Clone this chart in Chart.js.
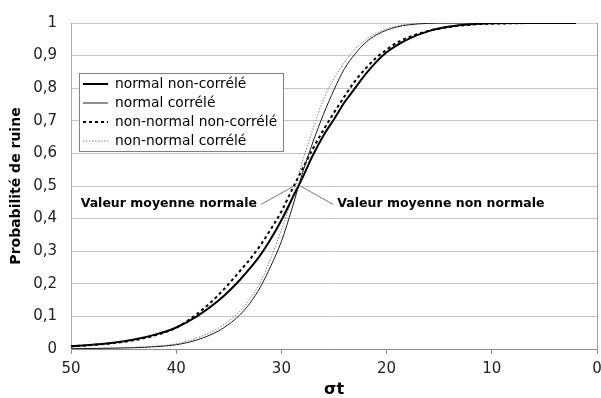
<!DOCTYPE html>
<html lang="fr">
<head>
<meta charset="utf-8">
<title>Probabilité de ruine</title>
<script src="https://cdn.jsdelivr.net/npm/chart.js@4.4.1/dist/chart.umd.min.js"></script>
<style>
  html, body { margin: 0; padding: 0; background: #fff; }
  #ruineChart { display: block; }
</style>
</head>
<body>
<canvas id="ruineChart" width="601" height="398"></canvas>
<script>
// sigma t (abscisse, axe inversé)
const sigmaT = [50, 48, 46, 44, 42, 40, 38, 36, 35, 34, 33, 32, 31, 30, 29, 28, 27, 26, 25, 24, 23, 22, 21, 20, 19, 18, 16, 14, 12, 10, 8, 6, 4, 2];

// probabilité de ruine pour chaque hypothèse
const normalNonCorrele = [0.009, 0.013, 0.019, 0.029, 0.044, 0.066, 0.101, 0.148, 0.177, 0.21, 0.247, 0.288, 0.338, 0.395, 0.46, 0.525, 0.595, 0.655, 0.705, 0.757, 0.80, 0.843, 0.88, 0.91, 0.932, 0.95, 0.975, 0.989, 0.996, 0.999, 1, 1, 1, 1];
const normalCorrele = [0.001, 0.0015, 0.0025, 0.004, 0.007, 0.013, 0.028, 0.055, 0.076, 0.103, 0.14, 0.19, 0.255, 0.33, 0.43, 0.54, 0.635, 0.72, 0.795, 0.86, 0.905, 0.94, 0.963, 0.978, 0.988, 0.994, 0.999, 1, 1, 1, 1, 1, 1, 1];
const nonNormalNonCorrele = [0.008, 0.012, 0.018, 0.027, 0.042, 0.065, 0.108, 0.165, 0.2, 0.237, 0.275, 0.318, 0.368, 0.422, 0.488, 0.552, 0.615, 0.672, 0.725, 0.775, 0.822, 0.86, 0.893, 0.918, 0.94, 0.955, 0.976, 0.988, 0.995, 0.998, 0.999, 1, 1, 1];
const nonNormalCorrele = [0.001, 0.002, 0.003, 0.005, 0.009, 0.016, 0.034, 0.064, 0.086, 0.114, 0.153, 0.205, 0.28, 0.365, 0.46, 0.575, 0.675, 0.765, 0.83, 0.88, 0.92, 0.948, 0.968, 0.982, 0.991, 0.996, 0.9995, 1, 1, 1, 1, 1, 1, 1];

// valeurs moyennes annotées
const moyenneLabels = ['Valeur moyenne normale', 'Valeur moyenne non normale'];
const moyenneX = [28.8, 28.2];
const moyenneY = [0.5, 0.5];

const xTickLabels = ['0', '10', '20', '30', '40', '50'];
const yTickLabels = ['0', '0,1', '0,2', '0,3', '0,4', '0,5', '0,6', '0,7', '0,8', '0,9', '1'];

const toPoints = (ys) => sigmaT.map((x, i) => ({ x: x, y: ys[i] }));

Chart.defaults.font.family = "'DejaVu Sans', sans-serif";
Chart.defaults.color = '#222';

// légende encadrée dans la zone du graphique
const boxLegend = {
  id: 'boxLegend',
  afterDatasetsDraw(chart) {
    const ctx = chart.ctx;
    const left = 79, top = 73, width = 204, height = 78;
    ctx.save();
    ctx.fillStyle = '#fff';
    ctx.fillRect(left, top, width, height);
    ctx.strokeStyle = '#808080';
    ctx.lineWidth = 1;
    ctx.strokeRect(left + 0.5, top + 0.5, width, height);
    ctx.font = "13.8px 'DejaVu Sans'";
    ctx.textBaseline = 'middle';
    chart.data.datasets.forEach((ds, i) => {
      const y = 84 + i * 19;
      ctx.beginPath();
      ctx.strokeStyle = ds.borderColor;
      ctx.lineWidth = ds.borderWidth;
      ctx.setLineDash(ds.borderDash || []);
      ctx.moveTo(83, y);
      ctx.lineTo(108, y);
      ctx.stroke();
      ctx.setLineDash([]);
      ctx.fillStyle = '#000';
      ctx.fillText(ds.label, 115, y);
    });
    ctx.restore();
  }
};

// annotations des valeurs moyennes avec traits de rappel
const moyennes = {
  id: 'moyennes',
  afterDatasetsDraw(chart) {
    const { ctx, scales: { x, y } } = chart;
    ctx.save();
    ctx.font = "bold 12.5px 'DejaVu Sans'";
    ctx.textBaseline = 'middle';
    moyenneLabels.forEach((label, i) => {
      const tx = x.getPixelForValue(moyenneX[i]);
      const ty = y.getPixelForValue(moyenneY[i]);
      const dir = i === 0 ? -1 : 1;
      ctx.beginPath();
      ctx.strokeStyle = '#7a7a7a';
      ctx.lineWidth = 1;
      ctx.moveTo(tx, ty);
      ctx.lineTo(tx + dir * 33, ty + 18.5);
      ctx.stroke();
      ctx.fillStyle = '#000';
      ctx.textAlign = i === 0 ? 'right' : 'left';
      ctx.fillText(label, tx + dir * 37, ty + 17.5);
    });
    ctx.restore();
  }
};

const ctx = document.getElementById('ruineChart').getContext('2d');
const ruineChart = new Chart(ctx, {
  type: 'line',
  data: {
    datasets: [
      {
        label: 'normal non-corrélé',
        data: toPoints(normalNonCorrele),
        borderColor: '#000',
        borderWidth: 2,
      },
      {
        label: 'normal corrélé',
        data: toPoints(normalCorrele),
        borderColor: '#1e1e1e',
        borderWidth: 1,
      },
      {
        label: 'non-normal non-corrélé',
        data: toPoints(nonNormalNonCorrele),
        borderColor: '#000',
        borderWidth: 2,
        borderDash: [3, 3],
      },
      {
        label: 'non-normal corrélé',
        data: toPoints(nonNormalCorrele),
        borderColor: '#808080',
        borderWidth: 1,
        borderDash: [1.5, 1.5],
      },
    ]
  },
  options: {
    responsive: false,
    animation: false,
    layout: { padding: { left: 0, right: 0, top: 17, bottom: 0 } },
    elements: {
      point: { radius: 0 },
      line: { cubicInterpolationMode: 'monotone', fill: false },
    },
    plugins: {
      legend: { display: false },
      tooltip: { enabled: false },
    },
    scales: {
      x: {
        type: 'linear',
        reverse: true,
        min: 0,
        max: 50,
        ticks: {
          stepSize: 10,
          padding: 6,
          font: { size: 15 },
          callback: (v) => xTickLabels[Math.round(v / 10)],
        },
        grid: { drawOnChartArea: false, drawTicks: true, tickLength: 5, color: '#8c8c8c' },
        border: { color: '#8c8c8c' },
        title: {
          display: true,
          text: 'σt',
          color: '#000',
          font: { size: 16, weight: 'bold', lineHeight: 1 },
          padding: { top: 1, bottom: 0 },
        },
        afterFit: (scale) => {
          scale.height = 49;
          scale.paddingRight = 0;
        },
      },
      y: {
        min: 0,
        max: 1,
        ticks: {
          stepSize: 0.1,
          padding: 14,
          font: { size: 15 },
          callback: (v, i) => yTickLabels[i],
        },
        grid: { color: '#c6c6c6', drawTicks: false },
        border: { color: '#a8a8a8' },
        title: {
          display: true,
          text: 'Probabilité de ruine',
          color: '#000',
          font: { size: 14, weight: 'bold' },
          padding: { top: 7.6, bottom: 0 },
        },
        afterFit: (scale) => { scale.width = 71; },
      },
      y2: {
        position: 'right',
        min: 0,
        max: 1,
        ticks: { display: false },
        grid: { display: false },
        border: { display: true, color: '#a0a0a0' },
        afterFit: (scale) => { scale.width = 4; },
      },
    },
  },
  plugins: [boxLegend, moyennes],
});
</script>
</body>
</html>
